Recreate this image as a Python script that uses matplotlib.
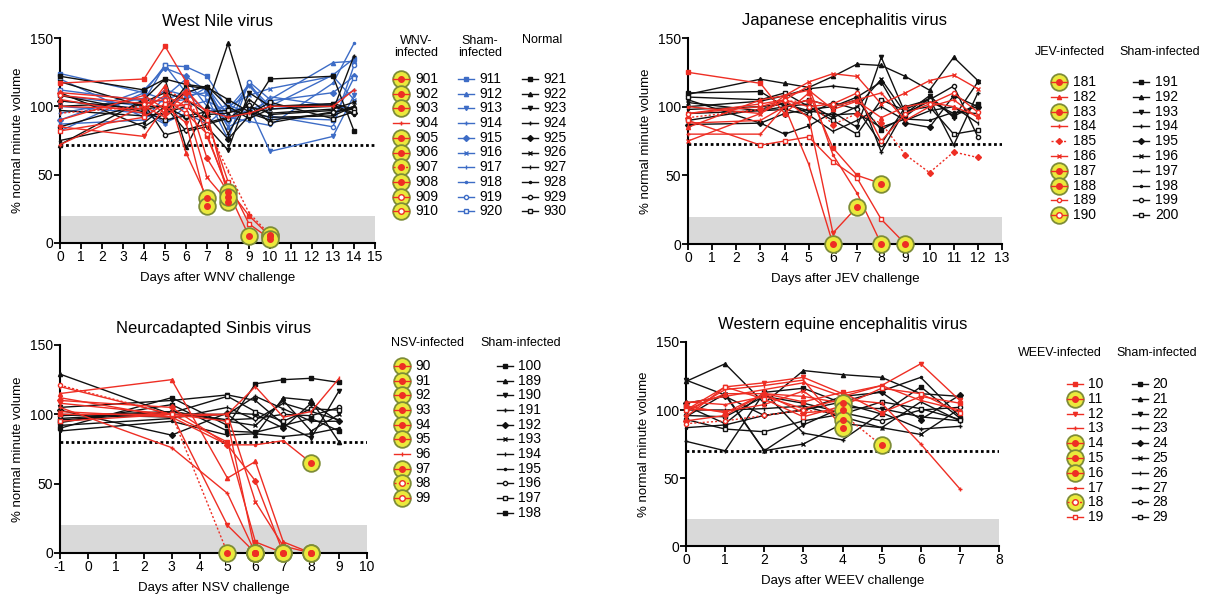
import numpy as np
import matplotlib
matplotlib.use('Agg')
import matplotlib.pyplot as plt
from matplotlib.lines import Line2D

plt.rcParams['font.family'] = ['Liberation Sans', 'DejaVu Sans']
plt.rcParams['axes.unicode_minus'] = False

W, H = 1216, 595
RED = '#ee2e24'
BLUE = '#3d6cc6'
BLACK = '#111111'
YELLOW = '#ebe93c'
OLIVE = '#7e8d37'

# ---------------- West Nile virus ----------------
wnv_days = [0, 4, 5, 6, 7, 8, 9, 10, 13, 14]
wnv_inf_ids = [901, 902, 903, 904, 905, 906, 907, 908, 909, 910]
wnv_inf = [
    [117, 120, 144, 118, 78, 40, 20, 5],
    [105, 95, 115, 66, 33],
    [85, 78, 100, 88, 27],
    [72, 100, 92, 105, 97, 92, 95, 100, 100, 112],
    [110, 105, 95, 110, 62, 37],
    [100, 98, 108, 100, 48, 30],
    [95, 100, 112, 105, 85, 53, 22, 6],
    [90, 108, 98, 112, 95, 34],
    [108, 102, 105, 95, 80, 38, 5],
    [82, 92, 102, 100, 90, 45, 14, 3],
]
wnv_sham_ids = [911, 912, 913, 914, 915, 916, 917, 918, 919, 920]
wnv_sham = [
    [124, 110, 130, 129, 122, 98, 116, 100, 123, 135],
    [108, 100, 112, 108, 110, 85, 118, 105, 132, 133],
    [100, 95, 87, 100, 104, 96, 100, 67, 78, 108],
    [95, 106, 103, 105, 114, 94, 115, 98, 102, 112],
    [90, 112, 128, 122, 111, 90, 97, 104, 110, 122],
    [104, 98, 88, 95, 87, 100, 108, 113, 122, 105],
    [82, 110, 105, 110, 115, 85, 92, 107, 100, 98],
    [87, 90, 107, 120, 100, 92, 89, 86, 117, 146],
    [120, 92, 95, 112, 107, 76, 118, 93, 85, 130],
    [112, 104, 130, 110, 96, 101, 95, 92, 90, 121],
]
wnv_norm_ids = [921, 922, 923, 924, 925, 926, 927, 928, 929, 930]
wnv_norm = [
    [122, 112, 120, 116, 114, 105, 96, 120, 122, 82],
    [72, 105, 120, 70, 100, 146, 95, 90, 95, 100],
    [118, 100, 100, 82, 85, 68, 110, 100, 102, 98],
    [110, 85, 95, 115, 113, 80, 105, 94, 97, 137],
    [104, 98, 100, 92, 93, 76, 93, 100, 101, 95],
    [100, 103, 110, 105, 94, 95, 100, 95, 98, 103],
    [97, 93, 95, 100, 88, 92, 96, 92, 93, 100],
    [75, 88, 100, 110, 115, 100, 91, 98, 100, 94],
    [85, 102, 79, 83, 87, 91, 101, 88, 96, 98],
    [108, 96, 90, 93, 96, 97, 94, 103, 91, 96],
]

# ---------------- Japanese encephalitis virus ----------------
jev_days = [0, 3, 4, 5, 6, 7, 8, 9, 10, 11, 12]
jev_inf_ids = [181, 182, 183, 184, 185, 186, 187, 188, 189, 190]
jev_inf = [
    [125, 117, 95, 110, 70, 50, 44],
    [85, 105, 108, 112, 98, 104, 92, 100, 103, 100, 93],
    [95, 100, 105, 92, 8, 27],
    [80, 80, 100, 105, 100, 105, 110, 90, 100, 105, 92],
    [92, 98, 104, 104, 87, 95, 88, 65, 52, 67, 63],
    [75, 95, 108, 118, 124, 122, 102, 110, 119, 123, 113],
    [88, 90, 100, 58, 0],
    [100, 95, 105, 115, 65, 37, 0],
    [95, 102, 105, 100, 102, 110, 75, 95, 102, 110, 96],
    [90, 72, 75, 78, 60, 48, 18, 0],
]
jev_sham_ids = [191, 192, 193, 194, 195, 196, 197, 198, 199, 200]
jev_sham = [
    [110, 111, 100, 105, 100, 105, 83, 93, 106, 93, 102],
    [109, 120, 117, 114, 122, 131, 130, 122, 112, 136, 119],
    [105, 88, 80, 86, 96, 85, 136, 95, 108, 92, 118],
    [100, 104, 108, 113, 115, 113, 67, 98, 106, 72, 110],
    [87, 88, 95, 98, 100, 107, 118, 88, 85, 108, 100],
    [103, 97, 100, 102, 92, 100, 120, 95, 104, 95, 100],
    [95, 97, 98, 94, 82, 90, 100, 90, 97, 100, 88],
    [98, 100, 102, 97, 94, 95, 85, 91, 90, 96, 95],
    [90, 98, 103, 95, 103, 98, 73, 100, 105, 115, 78],
    [107, 105, 110, 100, 90, 80, 105, 97, 100, 80, 83],
]

# ---------------- Neuroadapted Sinbis virus ----------------
nsv_days = [-1, 3, 5, 6, 7, 8, 9]
nsv_inf_ids = [90, 91, 92, 93, 94, 95, 96, 97, 98, 99]
nsv_inf = [
    [100, 100, 80, 8, 0],
    [115, 125, 54, 66, 8, 0],
    [108, 100, 20, 0],
    [105, 76, 43, 0],
    [110, 105, 78, 52, 0],
    [102, 98, 100, 37, 5, 0],
    [120, 100, 100, 120, 98, 102, 126],
    [112, 98, 78, 78, 81, 65],
    [121, 100, 0],
    [95, 100, 95, 0],
]
nsv_sham_ids = [100, 189, 190, 191, 192, 193, 194, 195, 196, 197, 198]
nsv_sham = [
    [90, 112, 92, 122, 125, 126, 123],
    [129, 100, 100, 85, 112, 110, 80],
    [105, 110, 114, 110, 93, 83, 117],
    [100, 98, 100, 113, 104, 95, 95],
    [103, 85, 101, 100, 90, 108, 95],
    [97, 102, 95, 92, 110, 88, 100],
    [92, 97, 105, 96, 108, 102, 96],
    [88, 95, 85, 86, 84, 86, 90],
    [99, 102, 96, 97, 100, 99, 105],
    [96, 101, 113, 102, 95, 104, 103],
    [94, 107, 88, 87, 92, 97, 88],
]

# ---------------- Western equine encephalitis virus ----------------
weev_days = [0, 1, 2, 3, 4, 5, 6, 7]
weev_inf_ids = [10, 11, 12, 13, 14, 15, 16, 17, 18, 19]
weev_inf = [
    [103, 98, 112, 106, 113, 98, 110, 105],
    [100, 112, 112, 110, 105],
    [95, 117, 120, 124, 112, 118, 134, 107],
    [106, 104, 110, 101, 108, 105, 75, 42],
    [92, 96, 112, 98, 100],
    [101, 99, 104, 114, 93],
    [98, 115, 118, 122, 87],
    [105, 110, 115, 120, 110, 118, 107, 100],
    [90, 92, 96, 100, 97, 74],
    [100, 117, 108, 95, 103, 116, 112, 98],
]
weev_sham_ids = [20, 21, 22, 23, 24, 25, 26, 27, 28, 29]
weev_sham = [
    [103, 90, 113, 116, 105, 97, 117, 94],
    [121, 134, 105, 129, 126, 124, 112, 110],
    [122, 111, 70, 89, 102, 101, 95, 92],
    [77, 70, 113, 83, 78, 98, 86, 88],
    [105, 110, 96, 100, 110, 113, 93, 111],
    [95, 112, 70, 75, 90, 87, 82, 101],
    [100, 100, 101, 103, 95, 87, 106, 92],
    [87, 89, 96, 100, 106, 114, 124, 95],
    [96, 95, 110, 105, 98, 92, 100, 102],
    [93, 86, 84, 92, 97, 106, 101, 93],
]

# animals that succumbed (highlighted with yellow circle)
dead_ids = {
    'wnv': [901, 902, 903, 905, 906, 907, 908, 909, 910],
    'jev': [181, 183, 187, 188, 190],
    'nsv': [90, 91, 92, 93, 94, 95, 97, 98, 99],
    'weev': [11, 14, 15, 16, 18],
}
dotted_ids = {'wnv': [907], 'jev': [185], 'nsv': [98], 'weev': [18]}

MARKERS = ['s', '^', 'v', '+', 'D', 'x', '|', '.', 'o', 's']


def style(i, color, dotted):
    m = MARKERS[i % len(MARKERS)]
    return dict(color=color, marker=m, markersize=3.0 if m not in '+x|' else 3.5,
                mfc='white' if i % 10 in (8, 9) else color, mec=color, mew=1.0,
                lw=1.0, ls=(0, (1.5, 1.5)) if dotted else '-')


def plot_group(ax, days, ids, values, color, dead, dotted):
    styles = []
    for i, (sid, vals) in enumerate(zip(ids, values)):
        y = np.full(len(days), np.nan)
        y[:len(vals)] = vals
        st = style(i, color, sid in dotted)
        ax.plot(days, y, zorder=3, clip_on=False, **st)
        if sid in dead:
            k = len(vals) - 1
            ax.plot(days[k], y[k], 'o', ms=12, mfc=YELLOW, mec=OLIVE, mew=1.3,
                    zorder=4, clip_on=False)
            ax.plot(days[k], y[k], 'o', ms=4, mfc=color, mec=color,
                    ls='none', zorder=5, clip_on=False)
        styles.append((sid, st, sid in dead))
    return styles


def draw_key_column(fig, styles, xc, xt, y0, step):
    for r, (sid, st, is_dead) in enumerate(styles):
        y = 1 - (y0 + r * step) / H
        if is_dead:
            fig.add_artist(Line2D([xc / W], [y], marker='o', ms=12, mfc=YELLOW, mec=OLIVE,
                                  mew=1.3, transform=fig.transFigure))
            st = dict(st, marker='o', markersize=4)
        fig.add_artist(Line2D([(xc - 8) / W, xc / W, (xc + 8) / W], [y, y, y], markevery=[1],
                              transform=fig.transFigure, **st))
        fig.text(xt / W, y, str(sid), fontsize=10, va='center', ha='left')


def setup_axes(fig, rect_px, xlim, threshold, title, xlabel):
    l, r, t, b = rect_px
    ax = fig.add_axes([l / W, 1 - b / H, (r - l) / W, (b - t) / H])
    ax.set_xlim(*xlim)
    ax.set_ylim(0, 150)
    ax.set_xticks(np.arange(xlim[0], xlim[1] + 1, 1))
    ax.set_yticks([0, 50, 100, 150])
    for s in ['top', 'right']:
        ax.spines[s].set_visible(False)
    for s in ['left', 'bottom']:
        ax.spines[s].set_linewidth(1.5)
    ax.tick_params(direction='out', length=4, width=1.3, labelsize=10, pad=1)
    ax.axhspan(0, 20, color='#d9d9d9', zorder=0, lw=0)
    ax.axhline(threshold, color='k', lw=2, ls=(0, (1, 1)), zorder=2)
    ax.set_title(title, fontsize=12, pad=9)
    ax.set_xlabel(xlabel, fontsize=9.5, labelpad=6)
    ax.set_ylabel('% normal minute volume', fontsize=9.5, labelpad=4)
    return ax


fig = plt.figure(figsize=(W / 100, H / 100), dpi=100)

# West Nile
ax = setup_axes(fig, (60, 375, 38, 243), (0, 15), 72, 'West Nile virus', 'Days after WNV challenge')
s1 = plot_group(ax, wnv_days, wnv_sham_ids, wnv_sham, BLUE, dead_ids['wnv'], dotted_ids['wnv'])
s2 = plot_group(ax, wnv_days, wnv_norm_ids, wnv_norm, BLACK, dead_ids['wnv'], dotted_ids['wnv'])
s0 = plot_group(ax, wnv_days, wnv_inf_ids, wnv_inf, RED, dead_ids['wnv'], dotted_ids['wnv'])
fig.text(416 / W, 1 - 47 / H, 'WNV-\ninfected', fontsize=9, ha='center', va='center', linespacing=1.1)
fig.text(480 / W, 1 - 47 / H, 'Sham-\ninfected', fontsize=9, ha='center', va='center', linespacing=1.1)
fig.text(542 / W, 1 - 40 / H, 'Normal', fontsize=9, ha='center', va='center')
draw_key_column(fig, s0, 401, 415, 79, 14.7)
draw_key_column(fig, s1, 466, 479, 79, 14.7)
draw_key_column(fig, s2, 530, 543, 79, 14.7)

# Japanese encephalitis
ax = setup_axes(fig, (688, 1002, 38, 244), (0, 13), 73, 'Japanese encephalitis virus',
                'Days after JEV challenge')
s1 = plot_group(ax, jev_days, jev_sham_ids, jev_sham, BLACK, dead_ids['jev'], dotted_ids['jev'])
s0 = plot_group(ax, jev_days, jev_inf_ids, jev_inf, RED, dead_ids['jev'], dotted_ids['jev'])
fig.text(1070 / W, 1 - 52 / H, 'JEV-infected', fontsize=9, ha='center', va='center')
fig.text(1160 / W, 1 - 52 / H, 'Sham-infected', fontsize=9, ha='center', va='center')
draw_key_column(fig, s0, 1059, 1073, 82, 14.8)
draw_key_column(fig, s1, 1141, 1155, 82, 14.8)

# Neuroadapted Sinbis
ax = setup_axes(fig, (60, 367, 345, 553), (-1, 10), 80, 'Neurcadapted Sinbis virus',
                'Days after NSV challenge')
s1 = plot_group(ax, nsv_days, nsv_sham_ids, nsv_sham, BLACK, dead_ids['nsv'], dotted_ids['nsv'])
s0 = plot_group(ax, nsv_days, nsv_inf_ids, nsv_inf, RED, dead_ids['nsv'], dotted_ids['nsv'])
fig.text(427 / W, 1 - 343 / H, 'NSV-infected', fontsize=9, ha='center', va='center')
fig.text(521 / W, 1 - 343 / H, 'Sham-infected', fontsize=9, ha='center', va='center')
draw_key_column(fig, s0, 402, 415, 366, 14.67)
draw_key_column(fig, s1, 505, 518, 366, 14.67)

# Western equine encephalitis
ax = setup_axes(fig, (686, 999, 342, 546), (0, 8), 70, 'Western equine encephalitis virus',
                'Days after WEEV challenge')
s1 = plot_group(ax, weev_days, weev_sham_ids, weev_sham, BLACK, dead_ids['weev'], dotted_ids['weev'])
s0 = plot_group(ax, weev_days, weev_inf_ids, weev_inf, RED, dead_ids['weev'], dotted_ids['weev'])
fig.text(1060 / W, 1 - 353 / H, 'WEEV-infected', fontsize=9, ha='center', va='center')
fig.text(1157 / W, 1 - 353 / H, 'Sham-infected', fontsize=9, ha='center', va='center')
draw_key_column(fig, s0, 1075, 1088, 384, 14.8)
draw_key_column(fig, s1, 1140, 1152, 384, 14.8)

fig.savefig('out.png', dpi=100)
